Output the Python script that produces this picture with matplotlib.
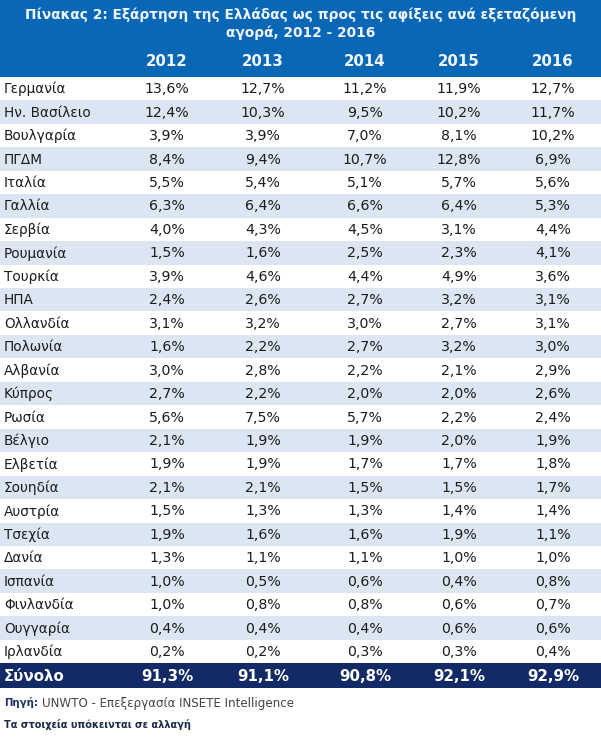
import matplotlib.pyplot as plt
from matplotlib.patches import Rectangle

# Table data
years = ['2012', '2013', '2014', '2015', '2016']
countries = ['Γερμανία', 'Ην. Βασίλειο', 'Βουλγαρία', 'ΠΓΔΜ', 'Ιταλία', 'Γαλλία',
             'Σερβία', 'Ρουμανία', 'Τουρκία', 'ΗΠΑ', 'Ολλανδία', 'Πολωνία',
             'Αλβανία', 'Κύπρος', 'Ρωσία', 'Βέλγιο', 'Ελβετία', 'Σουηδία',
             'Αυστρία', 'Τσεχία', 'Δανία', 'Ισπανία', 'Φινλανδία', 'Ουγγαρία',
             'Ιρλανδία']
share_2012 = ['13,6%', '12,4%', '3,9%', '8,4%', '5,5%', '6,3%', '4,0%', '1,5%', '3,9%',
              '2,4%', '3,1%', '1,6%', '3,0%', '2,7%', '5,6%', '2,1%', '1,9%', '2,1%',
              '1,5%', '1,9%', '1,3%', '1,0%', '1,0%', '0,4%', '0,2%']
share_2013 = ['12,7%', '10,3%', '3,9%', '9,4%', '5,4%', '6,4%', '4,3%', '1,6%', '4,6%',
              '2,6%', '3,2%', '2,2%', '2,8%', '2,2%', '7,5%', '1,9%', '1,9%', '2,1%',
              '1,3%', '1,6%', '1,1%', '0,5%', '0,8%', '0,4%', '0,2%']
share_2014 = ['11,2%', '9,5%', '7,0%', '10,7%', '5,1%', '6,6%', '4,5%', '2,5%', '4,4%',
              '2,7%', '3,0%', '2,7%', '2,2%', '2,0%', '5,7%', '1,9%', '1,7%', '1,5%',
              '1,3%', '1,6%', '1,1%', '0,6%', '0,8%', '0,4%', '0,3%']
share_2015 = ['11,9%', '10,2%', '8,1%', '12,8%', '5,7%', '6,4%', '3,1%', '2,3%', '4,9%',
              '3,2%', '2,7%', '3,2%', '2,1%', '2,0%', '2,2%', '2,0%', '1,7%', '1,5%',
              '1,4%', '1,9%', '1,0%', '0,4%', '0,6%', '0,6%', '0,3%']
share_2016 = ['12,7%', '11,7%', '10,2%', '6,9%', '5,6%', '5,3%', '4,4%', '4,1%', '3,6%',
              '3,1%', '3,1%', '3,0%', '2,9%', '2,6%', '2,4%', '1,9%', '1,8%', '1,7%',
              '1,4%', '1,1%', '1,0%', '0,8%', '0,7%', '0,6%', '0,4%']
totals = ['91,3%', '91,1%', '90,8%', '92,1%', '92,9%']

title = ('Πίνακας 2: Εξάρτηση της Ελλάδας ως προς τις αφίξεις ανά εξεταζόμενη\n'
         'αγορά, 2012 - 2016')

HEADER_BLUE = '#0a67b6'
NAVY = '#122a66'
STRIPE = '#dce6f2'
TEXT = '#1c1c1c'

W, H = 601, 742
fig = plt.figure(figsize=(W / 100, H / 100), dpi=100)
ax = fig.add_axes([0, 0, 1, 1])
ax.set_xlim(0, W)
ax.set_ylim(H, 0)
ax.axis('off')

col_x = [167, 263, 365, 459, 553]
header_bottom = 77
row_h = 23.45

# header block
ax.add_patch(Rectangle((0, 0), W, header_bottom, color=HEADER_BLUE, lw=0))
ax.text(W / 2, 24, title, ha='center', va='center', color='#eef4fb',
        fontsize=9.9, fontweight='bold', linespacing=1.3)
for x, yr in zip(col_x, years):
    ax.text(x, 62, yr, ha='center', va='center', color='#eef4fb',
            fontsize=10.8, fontweight='bold')

# body rows
columns = [share_2012, share_2013, share_2014, share_2015, share_2016]
for i, name in enumerate(countries):
    top = header_bottom + i * row_h
    if i % 2 == 1:
        ax.add_patch(Rectangle((0, top), W, row_h, color=STRIPE, lw=0))
    yc = top + row_h / 2 + 0.5
    ax.text(4, yc, name, ha='left', va='center', color=TEXT, fontsize=9.8)
    for x, col in zip(col_x, columns):
        ax.text(x, yc, col[i], ha='center', va='center', color=TEXT, fontsize=10.2)

# total row
tot_top = header_bottom + len(countries) * row_h
ax.add_patch(Rectangle((0, tot_top), W, 25, color=NAVY, lw=0))
ax.text(4, tot_top + 13, 'Σύνολο', ha='left', va='center', color='white',
        fontsize=10.8, fontweight='bold')
for x, v in zip(col_x, totals):
    ax.text(x, tot_top + 13, v, ha='center', va='center', color='white',
            fontsize=10.8, fontweight='bold')

# footer
src = ax.text(4, 703, 'Πηγή:', ha='left', va='center', color='#1d3264',
              fontsize=7.3, fontweight='bold')
fig.canvas.draw()
bb = src.get_window_extent()
ax.text(4 + bb.width + 4, 703, 'UNWTO - Επεξεργασία INSETE Intelligence', ha='left',
        va='center', color='#444444', fontsize=8.6)
ax.text(4, 724, 'Τα στοιχεία υπόκεινται σε αλλαγή', ha='left', va='center',
        color='#1a2a48', fontsize=7.0, fontweight='bold')

fig.savefig('out.png', dpi=100, facecolor='white')
